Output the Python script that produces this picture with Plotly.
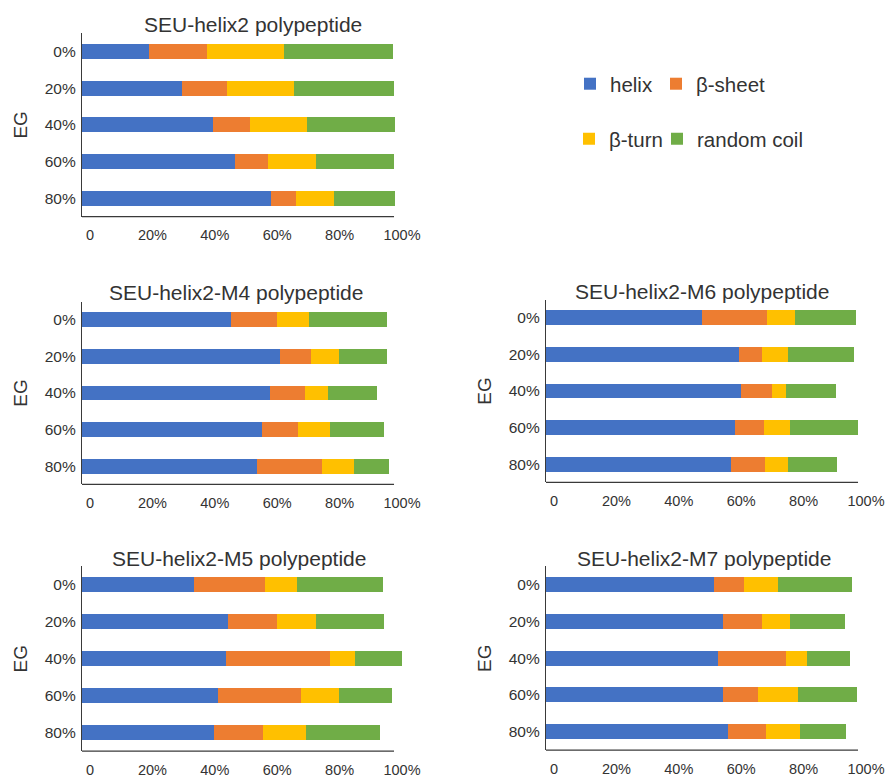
import plotly.graph_objects as go

# Ethylene-glycol content on the y axis (top to bottom)
EG_LEVELS = ["0%", "20%", "40%", "60%", "80%"]

PANEL_TITLES = [
    "SEU-helix2 polypeptide",
    "SEU-helix2-M4 polypeptide",
    "SEU-helix2-M6 polypeptide",
    "SEU-helix2-M5 polypeptide",
    "SEU-helix2-M7 polypeptide",
]

# Secondary-structure fractions (%) per panel, one row per panel, ordered by EG level
HELIX = [
    [21.6, 31.9, 42.0, 48.9, 60.6],
    [47.9, 63.6, 60.2, 57.6, 56.1],
    [50.1, 61.9, 62.4, 60.7, 59.4],
    [35.9, 46.7, 46.0, 43.5, 42.2],
    [54.0, 56.8, 55.1, 56.8, 58.2],
]
SHEET = [
    [18.5, 14.7, 11.9, 10.8, 7.9],
    [14.5, 9.8, 11.3, 11.5, 20.8],
    [20.7, 7.2, 9.9, 9.2, 10.8],
    [22.6, 15.9, 33.6, 26.8, 15.9],
    [9.5, 12.4, 21.7, 11.2, 12.2],
]
TURN = [
    [24.5, 21.2, 18.3, 15.3, 12.4],
    [10.5, 8.9, 7.2, 10.3, 10.3],
    [9.1, 8.4, 4.5, 8.2, 7.3],
    [10.4, 12.4, 8.0, 12.1, 13.8],
    [10.7, 8.9, 6.9, 12.7, 11.0],
]
COIL = [
    [35.1, 32.2, 28.1, 25.0, 19.4],
    [24.7, 15.3, 16.0, 17.4, 11.2],
    [19.4, 21.2, 16.3, 21.9, 15.7],
    [27.6, 21.8, 15.1, 17.1, 23.6],
    [24.0, 17.6, 13.6, 19.1, 14.7],
]

X_TICKS = [0, 20, 40, 60, 80, 100]
X_TICK_TEXT = ["0", "20%", "40%", "60%", "80%", "100%"]

# name, values, colour, legend id, legend anchor (px)
SERIES = [
    ("helix", HELIX, "#4472C4", "legend", (570, 84)),
    ("β-sheet", SHEET, "#ED7D31", "legend2", (656, 84)),
    ("β-turn", TURN, "#FFC000", "legend3", (569, 139)),
    ("random coil", COIL, "#70AD47", "legend4", (657, 139)),
]

W, H = 889, 778
# horizontal pixel span the page actually lays the figure out on
W_EFF = 875
FONT = "Liberation Sans, Arial, sans-serif"
TXT = "#333333"
AXC = "#3a3a3a"

# pixel boxes for each panel: (left, right) x, (top, bottom) y of the plotting area
LEFT_X = (82, 406.5)
RIGHT_X = (546, 870.5)
PANEL_BOX = [
    (LEFT_X, (33, 217)),
    (LEFT_X, (302, 485)),
    (RIGHT_X, (300, 483)),
    (LEFT_X, (567, 752)),
    (RIGHT_X, (567, 751)),
]
TITLE_POS = [(253, 25), (236, 293), (702, 292), (239, 559), (704, 559)]


def px_x(v):
    return v / W_EFF


def px_y(v):
    return 1 - v / H


fig = go.Figure()

for p in range(5):
    ax = "" if p == 0 else str(p + 1)
    for name, data, color, leg, _ in SERIES:
        fig.add_trace(go.Bar(
            x=data[p], y=EG_LEVELS, orientation="h", name=name,
            marker=dict(color=color, line=dict(width=0)),
            xaxis="x" + ax, yaxis="y" + ax,
            legendgroup=name, showlegend=(p == 0), legend=leg,
        ))

layout = dict(
    width=W, height=H, autosize=False,
    margin=dict(l=0, r=0, t=0, b=0),
    paper_bgcolor="white", plot_bgcolor="white",
    barmode="stack", bargap=0.59,
    font=dict(family=FONT, color=TXT),
    annotations=[], shapes=[],
)

for p, ((x0, x1), (y0, y1)) in enumerate(PANEL_BOX):
    ax = "" if p == 0 else str(p + 1)
    layout["xaxis" + ax] = dict(
        domain=[px_x(x0), px_x(x1)], range=[0, 104], anchor="y" + ax,
        showgrid=False, zeroline=False, showline=False, ticks="",
        tickvals=X_TICKS, ticktext=X_TICK_TEXT,
        tickfont=dict(size=14.5, color=TXT, family=FONT),
        ticklabelstandoff=8, ticklabelshift=8,
        fixedrange=True,
    )
    layout["yaxis" + ax] = dict(
        domain=[px_y(y1), px_y(y0)], anchor="x" + ax,
        type="category", autorange="reversed",
        showgrid=False, zeroline=False, showline=True,
        linecolor=AXC, linewidth=1.3, ticks="",
        tickfont=dict(size=15.5, color=TXT, family=FONT),
        ticklabelstandoff=2,
        title=dict(text="EG", font=dict(size=19, color=TXT, family=FONT), standoff=12),
        fixedrange=True,
    )
    # x axis baseline spanning 0-100 %
    layout["shapes"].append(dict(
        type="line", xref="x" + ax, yref="y" + ax + " domain",
        x0=0, x1=100, y0=0, y1=0, line=dict(color=AXC, width=1.3),
    ))
    tx, ty = TITLE_POS[p]
    layout["annotations"].append(dict(
        text=PANEL_TITLES[p], xref="paper", yref="paper",
        x=px_x(tx), y=px_y(ty), xanchor="center", yanchor="middle",
        showarrow=False, font=dict(size=21, color=TXT, family=FONT),
    ))

for name, _, _, leg, (lx, ly) in SERIES:
    layout[leg] = dict(
        orientation="h", x=px_x(lx), y=px_y(ly), xanchor="left", yanchor="middle",
        font=dict(size=20.5, color=TXT, family=FONT),
        bgcolor="rgba(0,0,0,0)", borderwidth=0,
    )

fig.update_layout(**layout)
fig.write_html("out.html", config={"responsive": False})
